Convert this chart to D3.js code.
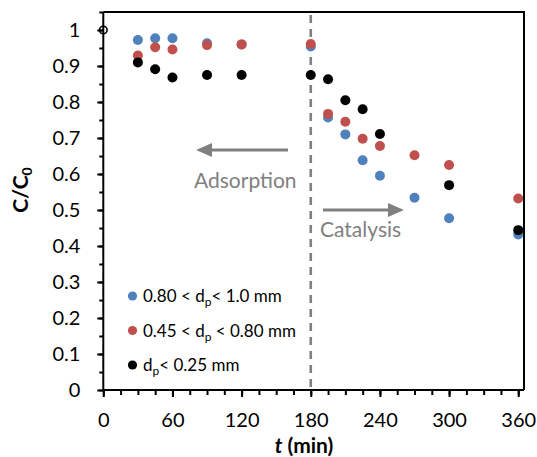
<!DOCTYPE html>
<html>
<head>
<meta charset="utf-8">
<script src="https://cdn.jsdelivr.net/npm/d3@7"></script>
<style>
  html, body { margin: 0; padding: 0; background: #fff; }
  svg { display: block; font-family: Lato, "Open Sans", sans-serif; }
</style>
</head>
<body>
<svg id="chart" width="537" height="457"></svg>
<script>
// Sampling times (min) and normalised concentration C/C0 for each particle size range
const times = [30, 45, 60, 90, 120, 180, 195, 210, 225, 240, 270, 300, 360];
const coarse = [0.972, 0.977, 0.977, 0.963, 0.960, 0.954, 0.757, 0.710, 0.638, 0.595, 0.534, 0.477, 0.432];
const medium = [0.929, 0.952, 0.946, 0.958, 0.960, 0.961, 0.767, 0.745, 0.698, 0.678, 0.652, 0.625, 0.532];
const fine   = [0.910, 0.891, 0.868, 0.875, 0.875, 0.875, 0.863, 0.805, 0.780, 0.711, null, 0.569, 0.444];

// Shared starting point
const startTime = [0];
const startValue = [1];

const xTicks = [0, 60, 120, 180, 240, 300, 360];
const yTicks = [0, 0.1, 0.2, 0.3, 0.4, 0.5, 0.6, 0.7, 0.8, 0.9, 1];
const switchTime = 180;

const series = [
  { name: "coarse", values: coarse, color: "#4F81BD",
    label: [["0.80 < d", ""], ["p", "sub"], ["< 1.0 mm", ""]] },
  { name: "medium", values: medium, color: "#C0504D",
    label: [["0.45 < d", ""], ["p", "sub"], [" < 0.80 mm", ""]] },
  { name: "fine", values: fine, color: "#000000",
    label: [["d", ""], ["p", "sub"], ["< 0.25 mm", ""]] }
];

const svg = d3.select("#chart");
const plotLeft = 103.3, plotRight = 524, plotTop = 12, plotBottom = 390;

const x = d3.scaleLinear().domain([0, 365]).range([plotLeft, plotRight]);
const y = d3.scaleLinear().domain([0, 1.05]).range([plotBottom, plotTop]);

// Plot frame (top and right edges)
svg.append("path")
  .attr("d", `M${plotLeft},${plotTop}H${plotRight}V${plotBottom}`)
  .attr("fill", "none").attr("stroke", "#000").attr("stroke-width", 2);

// X axis: major ticks every 60 min, minor every 15 min
const xAxisG = svg.append("g").attr("transform", `translate(0,${plotBottom})`);
xAxisG.call(d3.axisBottom(x).tickValues(d3.range(0, 361, 15)).tickSize(5).tickFormat(""))
  .call(g => g.select(".domain").remove());
xAxisG.append("g").call(d3.axisBottom(x).tickValues(xTicks).tickSize(7).tickFormat(d3.format("d")).tickPadding(16))
  .call(g => g.select(".domain").attr("d", `M${plotLeft},0H${plotRight}`));
xAxisG.selectAll("line").attr("stroke", "#000").attr("stroke-width", 2);
xAxisG.selectAll(".domain").attr("stroke", "#000").attr("stroke-width", 2);
xAxisG.selectAll("text").attr("font-size", 20).attr("fill", "#000")
  .attr("font-family", "Lato, sans-serif");

// Y axis: major ticks every 0.1, minor every 0.05
const yAxisG = svg.append("g").attr("transform", `translate(${plotLeft},0)`);
yAxisG.call(d3.axisLeft(y).tickValues(d3.range(0, 21.5, 1).map(v => v * 0.05)).tickSize(4).tickFormat(""))
  .call(g => g.select(".domain").remove());
yAxisG.append("g").call(d3.axisLeft(y).tickValues(yTicks).tickSize(6).tickFormat(d => d3.format("~g")(d)).tickPadding(17))
  .call(g => g.select(".domain").attr("d", `M0,${plotTop}V${plotBottom}`));
yAxisG.selectAll("line").attr("stroke", "#000").attr("stroke-width", 2);
yAxisG.selectAll(".domain").attr("stroke", "#000").attr("stroke-width", 2);
yAxisG.selectAll("text").attr("font-size", 20).attr("fill", "#000")
  .attr("font-family", "Lato, sans-serif");

// Vertical dashed divider between adsorption and catalysis stages
svg.append("line")
  .attr("x1", x(switchTime)).attr("x2", x(switchTime))
  .attr("y1", plotTop + 3).attr("y2", plotBottom)
  .attr("stroke", "#808080").attr("stroke-width", 2.6)
  .attr("stroke-dasharray", "8,6");

// Arrows and stage labels
const grey = "#808080";
function arrow(x1, x2, yy) {
  const dir = Math.sign(x2 - x1);
  const headLen = 16, headHalf = 7;
  svg.append("line")
    .attr("x1", x1).attr("x2", x2 - dir * headLen).attr("y1", yy).attr("y2", yy)
    .attr("stroke", grey).attr("stroke-width", 3);
  svg.append("path")
    .attr("d", `M${x2},${yy}L${x2 - dir * headLen},${yy - headHalf}L${x2 - dir * headLen},${yy + headHalf}Z`)
    .attr("fill", grey);
}
arrow(288, 196, 150);
arrow(323, 404, 210);
svg.append("text").attr("x", 194).attr("y", 188).attr("font-size", 21)
  .attr("fill", grey).text("Adsorption");
svg.append("text").attr("x", 320).attr("y", 237).attr("font-size", 21)
  .attr("fill", grey).text("Catalysis");

// Data markers
series.forEach(s => {
  const pts = times.map((t, i) => ({ t, v: s.values[i] })).filter(d => d.v !== null);
  svg.append("g").selectAll("circle").data(pts).join("circle")
    .attr("cx", d => x(d.t)).attr("cy", d => y(d.v)).attr("r", 5)
    .attr("fill", s.color);
});

// Starting point
svg.append("g").selectAll("circle").data(startTime.map((t, i) => ({ t, v: startValue[i] }))).join("circle")
  .attr("cx", d => x(d.t)).attr("cy", d => y(d.v)).attr("r", 3.8)
  .attr("fill", "none").attr("stroke", "#000").attr("stroke-width", 1.6);

// Legend
const legend = svg.append("g");
series.forEach((s, i) => {
  const cy = 296 + i * 34.5;
  legend.append("circle").attr("cx", 132.5).attr("cy", cy).attr("r", 4.6).attr("fill", s.color);
  const txt = legend.append("text").attr("x", 143).attr("y", cy + 6).attr("font-size", 17).attr("fill", "#000");
  s.label.forEach(([str, kind], j) => {
    const ts = txt.append("tspan").text(str);
    if (kind === "sub") ts.attr("font-size", 12).attr("dy", 4);
    else if (j > 0) ts.attr("dy", -4);
  });
});

// Axis titles
svg.append("text")
  .attr("transform", `translate(28,190) rotate(-90)`)
  .attr("text-anchor", "middle").attr("font-size", 21).attr("font-weight", "bold")
  .call(t => {
    t.append("tspan").text("C/C");
    t.append("tspan").text("0").attr("font-size", 14).attr("dy", 4);
  });

svg.append("text")
  .attr("x", 304).attr("y", 453).attr("text-anchor", "middle")
  .attr("font-size", 21).attr("font-weight", "bold")
  .call(t => {
    t.append("tspan").text("t").attr("font-style", "italic");
    t.append("tspan").text(" (min)");
  });
</script>
</body>
</html>
